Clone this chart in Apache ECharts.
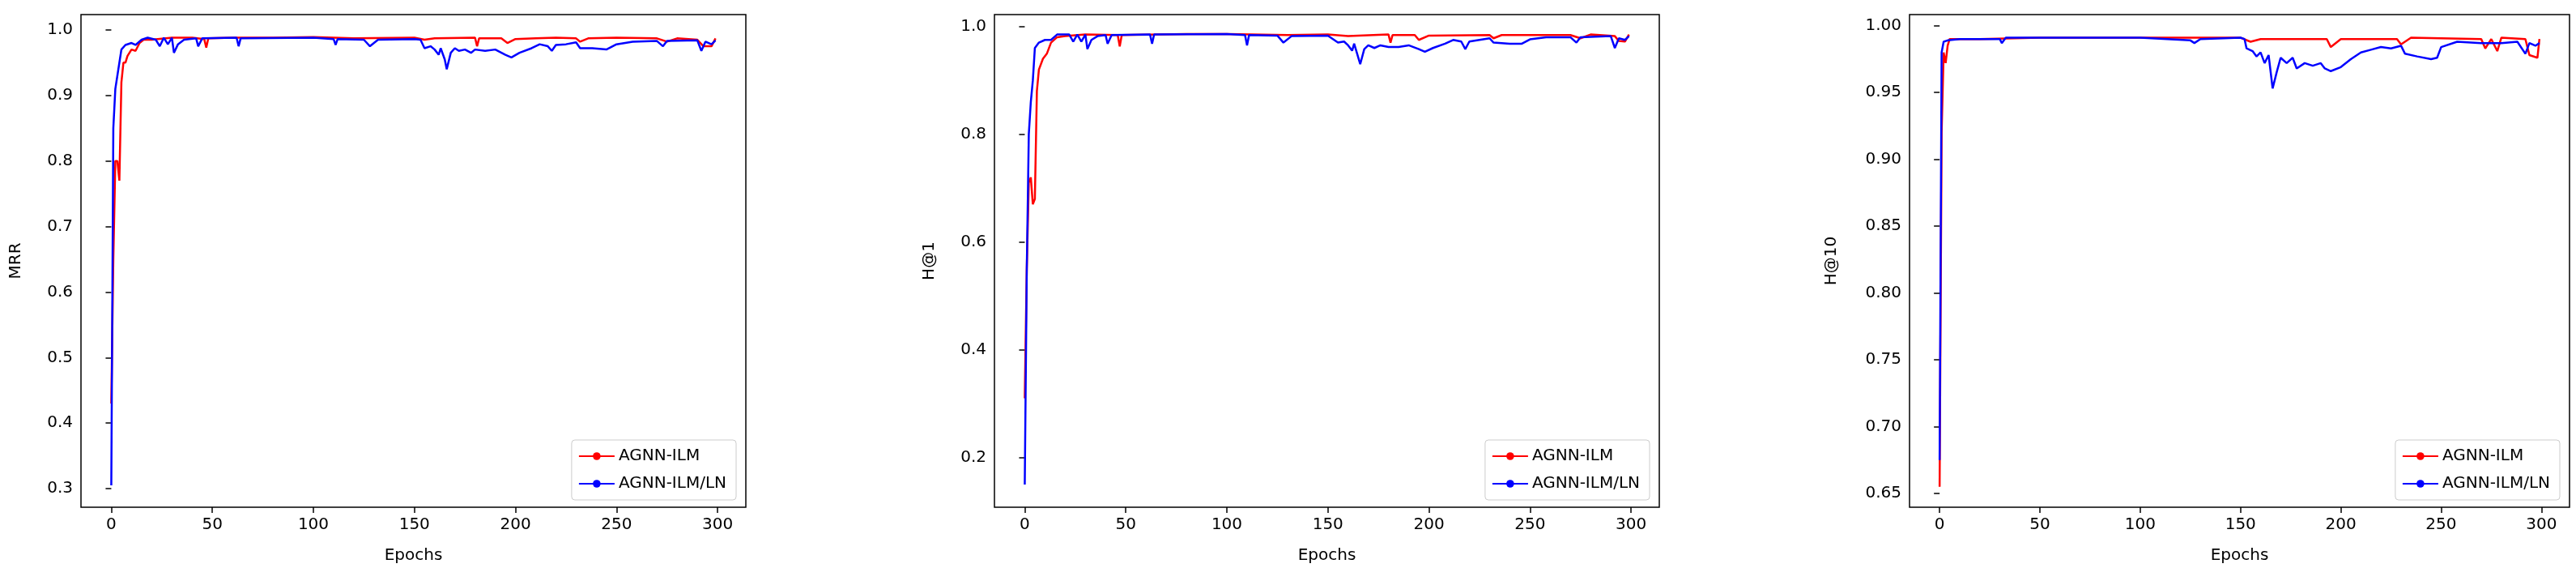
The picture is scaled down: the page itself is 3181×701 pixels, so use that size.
<!DOCTYPE html>
<html>
<head>
<meta charset="utf-8">
<script src="https://cdn.jsdelivr.net/npm/echarts@6/dist/echarts.min.js"></script>
<style>
html, body { margin: 0; padding: 0; background: #fff; }
#chart { width: 3181px; height: 701px; }
</style>
</head>
<body>
<div id="chart"></div>
<script>
// 數據 (epoch, value) 讀自原圖
var seriesNames = ['AGNN-ILM', 'AGNN-ILM/LN'];
var xTicks = [0, 50, 100, 150, 200, 250, 300];
var yTicksMRR = [0.3, 0.4, 0.5, 0.6, 0.7, 0.8, 0.9, 1.0];
var yTicksH1 = [0.2, 0.4, 0.6, 0.8, 1.0];
var yTicksH10 = [0.65, 0.70, 0.75, 0.80, 0.85, 0.90, 0.95, 1.00];

var mrrRed = [[0,0.43],[1,0.65],[2,0.80],[3,0.80],[4,0.77],[5,0.92],[6,0.95],[7,0.95],[8,0.96],[10,0.97],[12,0.968],[14,0.98],[16,0.985],[20,0.985],[30,0.988],[40,0.988],[46,0.986],[47,0.973],[48,0.987],[60,0.988],[80,0.988],[100,0.989],[120,0.987],[150,0.988],[155,0.985],[160,0.987],[180,0.988],[181,0.975],[182,0.987],[193,0.987],[196,0.980],[200,0.986],[210,0.987],[220,0.988],[230,0.987],[232,0.982],[236,0.987],[250,0.988],[270,0.987],[275,0.982],[280,0.987],[290,0.985],[293,0.975],[297,0.975],[299,0.987]];
var mrrBlue = [[0,0.305],[1,0.85],[2,0.91],[3,0.93],[5,0.97],[7,0.977],[10,0.980],[12,0.977],[15,0.985],[18,0.988],[22,0.985],[24,0.975],[26,0.988],[28,0.978],[30,0.988],[31,0.965],[33,0.978],[36,0.985],[42,0.987],[43,0.975],[45,0.987],[62,0.988],[63,0.975],[64,0.987],[100,0.988],[110,0.986],[111,0.977],[112,0.986],[125,0.985],[128,0.975],[132,0.985],[150,0.986],[153,0.985],[155,0.972],[158,0.975],[160,0.970],[162,0.962],[163,0.972],[165,0.955],[166,0.940],[168,0.965],[170,0.972],[172,0.968],[175,0.970],[178,0.965],[180,0.970],[185,0.968],[190,0.970],[195,0.962],[198,0.958],[202,0.965],[208,0.972],[212,0.978],[216,0.975],[218,0.968],[220,0.977],[225,0.978],[230,0.981],[232,0.972],[238,0.972],[245,0.970],[250,0.978],[258,0.982],[270,0.983],[273,0.975],[275,0.983],[290,0.984],[292,0.968],[294,0.982],[297,0.978],[299,0.984]];

var h1Red = [[0,0.31],[1,0.55],[2,0.71],[3,0.72],[4,0.67],[5,0.68],[6,0.88],[7,0.92],[9,0.94],[11,0.95],[13,0.97],[16,0.98],[20,0.982],[30,0.985],[46,0.984],[47,0.963],[48,0.984],[80,0.986],[100,0.986],[130,0.984],[150,0.985],[160,0.982],[180,0.985],[181,0.970],[182,0.984],[193,0.984],[195,0.975],[200,0.983],[230,0.984],[232,0.978],[236,0.984],[270,0.984],[275,0.978],[280,0.985],[292,0.982],[294,0.973],[297,0.972],[299,0.985]];
var h1Blue = [[0,0.15],[1,0.55],[2,0.80],[3,0.86],[4,0.90],[5,0.96],[7,0.97],[10,0.975],[13,0.975],[16,0.985],[22,0.985],[24,0.972],[26,0.985],[28,0.972],[30,0.985],[31,0.958],[33,0.975],[36,0.982],[40,0.984],[41,0.968],[43,0.984],[62,0.985],[63,0.968],[64,0.985],[100,0.986],[109,0.984],[110,0.965],[111,0.984],[125,0.983],[128,0.970],[132,0.982],[150,0.983],[155,0.970],[158,0.972],[160,0.965],[162,0.955],[163,0.968],[166,0.930],[168,0.958],[170,0.965],[173,0.960],[176,0.965],[180,0.962],[185,0.962],[190,0.965],[195,0.958],[198,0.953],[202,0.960],[208,0.968],[212,0.975],[216,0.972],[218,0.958],[220,0.972],[230,0.978],[232,0.970],[240,0.968],[246,0.968],[250,0.976],[258,0.980],[270,0.980],[273,0.970],[275,0.980],[290,0.982],[292,0.960],[294,0.978],[297,0.975],[299,0.982]];

var h10Red = [[0,0.655],[1,0.92],[2,0.98],[3,0.972],[4,0.985],[5,0.990],[20,0.990],[50,0.991],[100,0.991],[150,0.991],[155,0.988],[160,0.990],[193,0.990],[195,0.984],[200,0.990],[228,0.990],[230,0.986],[235,0.991],[270,0.990],[272,0.983],[275,0.990],[278,0.981],[280,0.991],[292,0.990],[294,0.978],[298,0.976],[299,0.990]];
var h10Blue = [[0,0.675],[1,0.98],[2,0.988],[4,0.989],[10,0.990],[30,0.990],[31,0.987],[33,0.991],[60,0.991],[100,0.991],[125,0.989],[127,0.987],[130,0.990],[150,0.991],[152,0.990],[153,0.983],[156,0.981],[158,0.977],[160,0.980],[162,0.972],[164,0.978],[166,0.953],[168,0.965],[170,0.976],[173,0.972],[176,0.976],[178,0.968],[182,0.972],[186,0.970],[190,0.972],[192,0.968],[195,0.966],[200,0.969],[205,0.975],[210,0.980],[215,0.982],[220,0.984],[225,0.983],[230,0.985],[232,0.979],[238,0.977],[245,0.975],[248,0.976],[250,0.984],[258,0.988],[270,0.987],[280,0.987],[288,0.988],[292,0.979],[294,0.987],[297,0.985],[299,0.987]];

var panels = [
    { left: 100, width: 821, yName: 'MRR', min: 0.2717, max: 1.0233, ticks: yTicksMRR, dec: 1, red: mrrRed, blue: mrrBlue },
    { left: 1228, width: 821, yName: 'H@1', min: 0.108, max: 1.022, ticks: yTicksH1, dec: 1, red: h1Red, blue: h1Blue },
    { left: 2358, width: 815, yName: 'H@10', min: 0.6397, max: 1.0083, ticks: yTicksH10, dec: 2, red: h10Red, blue: h10Blue }
];

var textColor = '#000';
var font = 'DejaVu Sans';
var grids = [], xAxes = [], yAxes = [], series = [], legends = [];

panels.forEach(function (p, i) {
    grids.push({ left: p.left, width: p.width, top: 18, height: 612, show: true,
        borderColor: '#000', borderWidth: 1.5, backgroundColor: 'transparent' });
    xAxes.push({
        type: 'value', gridIndex: i, min: -15, max: 314,
        name: 'Epochs', nameLocation: 'middle', nameGap: 50,
        nameTextStyle: { fontFamily: font, fontSize: 20, color: textColor },
        axisLine: { show: false },
        axisTick: { show: true, length: 7, customValues: xTicks, lineStyle: { color: '#000', width: 1.5 } },
        axisLabel: { customValues: xTicks, fontFamily: font, fontSize: 20, color: textColor, margin: 12 },
        splitLine: { show: false }
    });
    yAxes.push({
        type: 'value', gridIndex: i, min: p.min, max: p.max,
        name: p.yName, nameLocation: 'middle', nameGap: p.dec === 2 ? 86 : 70,
        nameTextStyle: { fontFamily: font, fontSize: 20, color: textColor },
        axisLine: { show: false },
        axisTick: { show: true, length: 7, customValues: p.ticks, lineStyle: { color: '#000', width: 1.5 } },
        axisLabel: { customValues: p.ticks, fontFamily: font, fontSize: 20, color: textColor, margin: 10,
            formatter: function (v) { return v.toFixed(p.dec); } },
        splitLine: { show: false }
    });
    series.push({ name: seriesNames[0], type: 'line', xAxisIndex: i, yAxisIndex: i, data: p.red,
        showSymbol: false, symbol: 'none', lineStyle: { color: '#ff0000', width: 2.5 }, itemStyle: { color: '#ff0000' } });
    series.push({ name: seriesNames[1], type: 'line', xAxisIndex: i, yAxisIndex: i, data: p.blue,
        showSymbol: false, symbol: 'none', lineStyle: { color: '#0000ff', width: 2.5 }, itemStyle: { color: '#0000ff' } });
    legends.push({
        data: seriesNames, orient: 'vertical',
        right: 3181 - (p.left + p.width) + 12, bottom: 84,
        backgroundColor: '#fff', borderColor: '#ccc', borderWidth: 1, borderRadius: 4,
        padding: [10, 12, 10, 8], itemGap: 14, itemWidth: 44, itemHeight: 12,
        textStyle: { fontFamily: font, fontSize: 20, color: textColor },
        selectedMode: false
    });
});

var chart = echarts.init(document.getElementById('chart'));
chart.setOption({
    animation: false,
    backgroundColor: '#fff',
    grid: grids, xAxis: xAxes, yAxis: yAxes, legend: legends, series: series
});
window.addEventListener('resize', function () { chart.resize(); });
</script>
</body>
</html>
